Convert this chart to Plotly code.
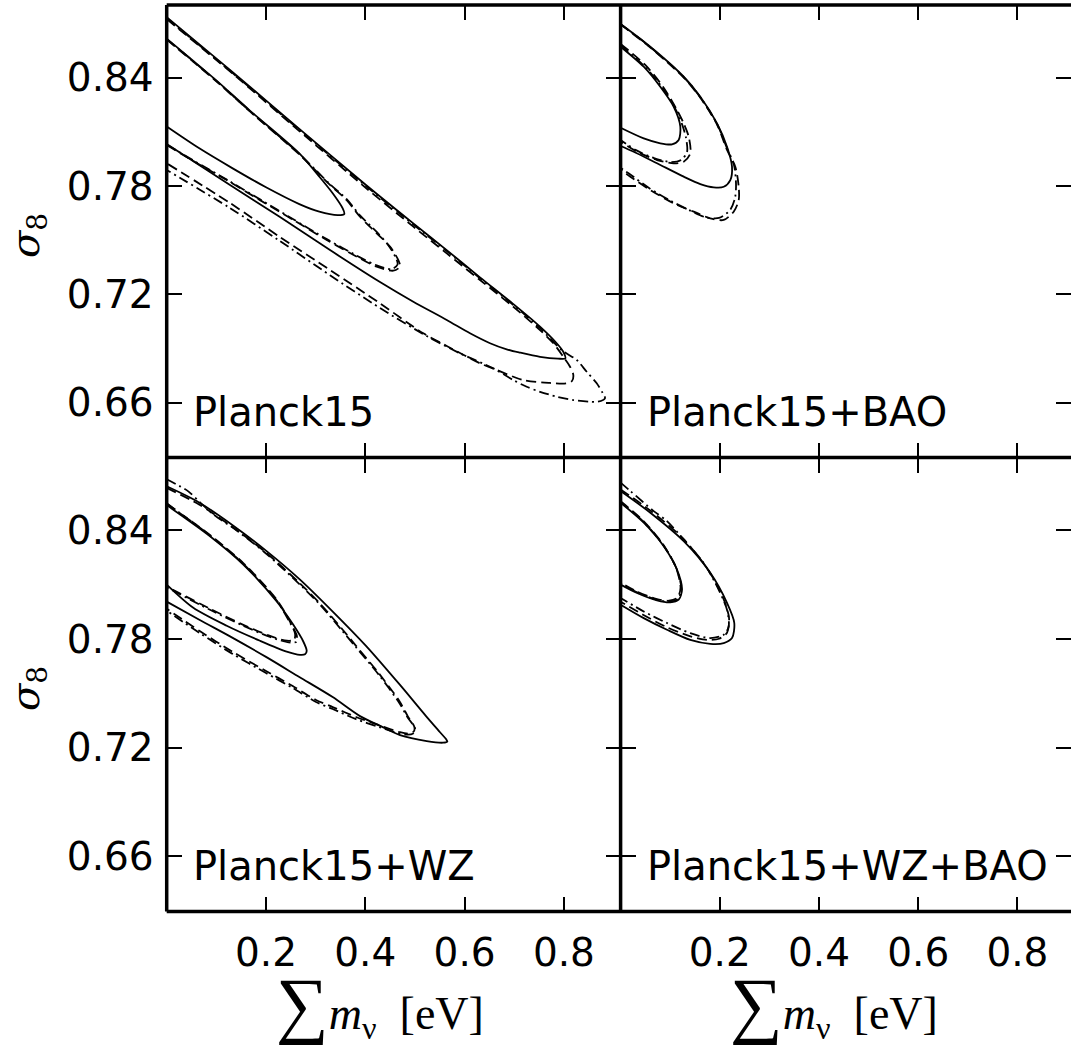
import plotly.graph_objects as go

# ---------------- data (sum m_nu [eV], sigma_8) ----------------
X_TICKS = [0.2, 0.4, 0.6, 0.8]
X_TICK_TEXT = ["0.2", "0.4", "0.6", "0.8"]
Y_TICKS = [0.66, 0.72, 0.78, 0.84]
Y_TICK_TEXT = ["0.66", "0.72", "0.78", "0.84"]
PANEL_NAMES = ["Planck15", "Planck15+BAO", "Planck15+WZ", "Planck15+WZ+BAO"]

# Panel 1: Planck15
P1_S68_X = [0, 0.0993, 0.1664, 0.2671, 0.3074, 0.3343, 0.3545, 0.3577, 0.3444, 0.3074, 0.2671, 0.2000, 0.1329, 0.0657, 0]
P1_S68_Y = [0.8617, 0.8387, 0.8221, 0.7981, 0.7852, 0.7760, 0.7676, 0.7645, 0.7639, 0.7658, 0.7700, 0.7793, 0.7898, 0.8009, 0.8130]
P1_S95_X = [0, 0.1335, 0.2671, 0.4014, 0.4967, 0.5640, 0.6310, 0.6981, 0.7519, 0.7855, 0.7988, 0.8028, 0.7881, 0.7519, 0.7116, 0.6848, 0.6512, 0.6109, 0.5640, 0.4967, 0.4296, 0.3289, 0.2282, 0.1275, 0]
P1_S95_Y = [0.8736, 0.8430, 0.8117, 0.7806, 0.7593, 0.7445, 0.7294, 0.7146, 0.7021, 0.6929, 0.6882, 0.6845, 0.6844, 0.6854, 0.6877, 0.6895, 0.6929, 0.6984, 0.7058, 0.7159, 0.7268, 0.7445, 0.7628, 0.7806, 0.8033]
P1_D68_X = [0, 0.0993, 0.1664, 0.2671, 0.3289, 0.3625, 0.3893, 0.4230, 0.4497, 0.4665, 0.4699, 0.4564, 0.4230, 0.3893, 0.3223, 0.2550, 0.1879, 0.1208, 0.0536, 0]
P1_D68_Y = [0.8611, 0.8382, 0.8216, 0.7975, 0.7806, 0.7722, 0.7630, 0.7538, 0.7464, 0.7390, 0.7353, 0.7331, 0.7353, 0.7399, 0.7501, 0.7612, 0.7722, 0.7833, 0.7939, 0.8027]
P1_DD68_X = [0, 0.0993, 0.1664, 0.2671, 0.3289, 0.3625, 0.3893, 0.4230, 0.4470, 0.4620, 0.4650, 0.4530, 0.4230, 0.3893, 0.3223, 0.2550, 0.1879, 0.1208, 0.0536, 0]
P1_DD68_Y = [0.8614, 0.8384, 0.8218, 0.7978, 0.7810, 0.7727, 0.7638, 0.7546, 0.7470, 0.7400, 0.7365, 0.7340, 0.7360, 0.7405, 0.7506, 0.7616, 0.7726, 0.7836, 0.7942, 0.8030]
P1_D95_X = [0, 0.1335, 0.2671, 0.4014, 0.4967, 0.5640, 0.6310, 0.6981, 0.7519, 0.7787, 0.7988, 0.8123, 0.8190, 0.8163, 0.8042, 0.7720, 0.7182, 0.6647, 0.6310, 0.5640, 0.5168, 0.4296, 0.3289, 0.2282, 0.1275, 0]
P1_D95_Y = [0.8725, 0.8421, 0.8105, 0.7789, 0.7575, 0.7427, 0.7279, 0.7131, 0.7002, 0.6929, 0.6854, 0.6799, 0.6753, 0.6720, 0.6707, 0.6709, 0.6725, 0.6781, 0.6818, 0.6914, 0.6984, 0.7150, 0.7335, 0.7517, 0.7706, 0.7926]
P1_DD95_X = [0, 0.1335, 0.2671, 0.4014, 0.4967, 0.5640, 0.6310, 0.6981, 0.7519, 0.7956, 0.8258, 0.8459, 0.8661, 0.8781, 0.8828, 0.8687, 0.8526, 0.8190, 0.7855, 0.7519, 0.7251, 0.6981, 0.6578, 0.5907, 0.5237, 0.4296, 0.3289, 0.2282, 0.1275, 0]
P1_DD95_Y = [0.8730, 0.8424, 0.8112, 0.7800, 0.7587, 0.7440, 0.7289, 0.7141, 0.7013, 0.6891, 0.6836, 0.6771, 0.6707, 0.6653, 0.6624, 0.6605, 0.6605, 0.6614, 0.6633, 0.6660, 0.6688, 0.6725, 0.6790, 0.6873, 0.6969, 0.7124, 0.7306, 0.7495, 0.7678, 0.7889]

# Panel 2: Planck15+BAO
P2_S68_X = [0, 0.0466, 0.0800, 0.1071, 0.1204, 0.1171, 0.1036, 0.0800, 0.0466, 0]
P2_S68_Y = [0.8572, 0.8461, 0.8350, 0.8239, 0.8129, 0.8055, 0.8031, 0.8037, 0.8064, 0.8123]
P2_S95_X = [0, 0.0599, 0.1272, 0.1607, 0.1944, 0.2145, 0.2246, 0.2212, 0.2079, 0.1877, 0.1607, 0.1272, 0.0734, 0.0264, 0]
P2_S95_Y = [0.8698, 0.8572, 0.8406, 0.8295, 0.8147, 0.8018, 0.7907, 0.7833, 0.7796, 0.7793, 0.7811, 0.7852, 0.7926, 0.7990, 0.8022]
P2_D68_X = [0, 0.0492, 0.0855, 0.1137, 0.1272, 0.1373, 0.1405, 0.1272, 0.1071, 0.0734, 0.0331, 0]
P2_D68_Y = [0.8587, 0.8472, 0.8350, 0.8221, 0.8147, 0.8073, 0.7981, 0.7935, 0.7926, 0.7944, 0.7990, 0.8045]
P2_DD68_X = [0, 0.0472, 0.0835, 0.1097, 0.1238, 0.1319, 0.1339, 0.1218, 0.1016, 0.0673, 0.0310, 0]
P2_DD68_Y = [0.8581, 0.8466, 0.8348, 0.8232, 0.8143, 0.8066, 0.7988, 0.7944, 0.7933, 0.7955, 0.7999, 0.8055]
P2_D95_X = [0, 0.0599, 0.1272, 0.1607, 0.1944, 0.2145, 0.2312, 0.2381, 0.2381, 0.2280, 0.2079, 0.1808, 0.1474, 0.1071, 0.0599, 0.0196, 0]
P2_D95_Y = [0.8695, 0.8567, 0.8401, 0.8289, 0.8141, 0.8000, 0.7907, 0.7796, 0.7722, 0.7658, 0.7612, 0.7621, 0.7658, 0.7704, 0.7778, 0.7852, 0.7889]
P2_DD95_X = [0, 0.0599, 0.1272, 0.1607, 0.1944, 0.2145, 0.2286, 0.2327, 0.2306, 0.2206, 0.1984, 0.1702, 0.1379, 0.1016, 0.0573, 0.0210, 0]
P2_DD95_Y = [0.8697, 0.8570, 0.8404, 0.8292, 0.8144, 0.8010, 0.7916, 0.7807, 0.7734, 0.7667, 0.7623, 0.7628, 0.7667, 0.7717, 0.7789, 0.7861, 0.7900]

# Panel 3: Planck15+WZ
P3_S68_X = [0, 0.0872, 0.1543, 0.2216, 0.2550, 0.2751, 0.2820, 0.2786, 0.2685, 0.2417, 0.1879, 0.1208, 0.0536, 0]
P3_S68_Y = [0.8540, 0.8368, 0.8212, 0.8008, 0.7879, 0.7787, 0.7735, 0.7716, 0.7713, 0.7731, 0.7791, 0.7874, 0.7973, 0.8101]
P3_S95_X = [0, 0.0651, 0.1335, 0.2000, 0.2685, 0.3349, 0.4014, 0.4699, 0.5223, 0.5505, 0.5626, 0.5652, 0.5565, 0.5237, 0.4699, 0.4350, 0.3893, 0.3343, 0.2671, 0.2000, 0.1329, 0.0657, 0]
P3_S95_Y = [0.8644, 0.8555, 0.8428, 0.8289, 0.8129, 0.7951, 0.7763, 0.7547, 0.7375, 0.7286, 0.7248, 0.7234, 0.7228, 0.7237, 0.7270, 0.7314, 0.7375, 0.7480, 0.7591, 0.7702, 0.7807, 0.7907, 0.8007]
P3_D68_X = [0, 0.0872, 0.1543, 0.2216, 0.2485, 0.2586, 0.2566, 0.2423, 0.2081, 0.1543, 0.0872, 0]
P3_D68_Y = [0.8547, 0.8375, 0.8220, 0.8018, 0.7896, 0.7829, 0.7796, 0.7791, 0.7818, 0.7879, 0.7968, 0.8090]
P3_DD68_X = [0, 0.0872, 0.1543, 0.2216, 0.2485, 0.2620, 0.2610, 0.2460, 0.2081, 0.1543, 0.0872, 0]
P3_DD68_Y = [0.8550, 0.8372, 0.8216, 0.8013, 0.7890, 0.7820, 0.7785, 0.7782, 0.7812, 0.7874, 0.7962, 0.8086]
P3_D95_X = [0, 0.0651, 0.1335, 0.2000, 0.2685, 0.3089, 0.3545, 0.3813, 0.4282, 0.4685, 0.4854, 0.4987, 0.4981, 0.4900, 0.4699, 0.4282, 0.3813, 0.3343, 0.3007, 0.2538, 0.2000, 0.1329, 0.0657, 0]
P3_D95_Y = [0.8635, 0.8544, 0.8417, 0.8278, 0.8107, 0.7996, 0.7852, 0.7763, 0.7608, 0.7458, 0.7375, 0.7316, 0.7292, 0.7279, 0.7286, 0.7325, 0.7370, 0.7425, 0.7464, 0.7541, 0.7624, 0.7730, 0.7846, 0.7968]
P3_DD95_X = [0, 0.0435, 0.0671, 0.0939, 0.1410, 0.2000, 0.2685, 0.3089, 0.3545, 0.3813, 0.4282, 0.4685, 0.4860, 0.5001, 0.4961, 0.4800, 0.4564, 0.4282, 0.3813, 0.3343, 0.3007, 0.2538, 0.2000, 0.1329, 0.0657, 0]
P3_DD95_Y = [0.8683, 0.8616, 0.8555, 0.8489, 0.8400, 0.8273, 0.8101, 0.7990, 0.7843, 0.7755, 0.7600, 0.7447, 0.7364, 0.7309, 0.7278, 0.7273, 0.7289, 0.7314, 0.7358, 0.7414, 0.7453, 0.7530, 0.7613, 0.7718, 0.7835, 0.7957]

# Panel 4: Planck15+WZ+BAO
P4_S68_X = [0, 0.0466, 0.0869, 0.1137, 0.1238, 0.1171, 0.1002, 0.0734, 0.0331, 0]
P4_S68_Y = [0.8553, 0.8443, 0.8313, 0.8184, 0.8073, 0.8018, 0.8003, 0.8014, 0.8055, 0.8101]
P4_S95_X = [0, 0.0599, 0.1272, 0.1808, 0.2145, 0.2292, 0.2246, 0.2079, 0.1808, 0.1405, 0.0935, 0.0466, 0]
P4_S95_Y = [0.8618, 0.8498, 0.8341, 0.8166, 0.8000, 0.7889, 0.7806, 0.7778, 0.7774, 0.7796, 0.7852, 0.7916, 0.7990]
P4_D68_X = [0, 0.0452, 0.0855, 0.1117, 0.1208, 0.1147, 0.0976, 0.0714, 0.0310, 0]
P4_D68_Y = [0.8561, 0.8455, 0.8324, 0.8195, 0.8084, 0.8029, 0.8012, 0.8023, 0.8065, 0.8112]
P4_DD68_X = [0, 0.0460, 0.0862, 0.1127, 0.1223, 0.1160, 0.0990, 0.0724, 0.0320, 0]
P4_DD68_Y = [0.8557, 0.8449, 0.8318, 0.8190, 0.8078, 0.8022, 0.8006, 0.8018, 0.8060, 0.8107]
P4_D95_X = [0, 0.0593, 0.1258, 0.1762, 0.2065, 0.2186, 0.2145, 0.1984, 0.1742, 0.1379, 0.0915, 0.0452, 0]
P4_D95_Y = [0.8627, 0.8511, 0.8356, 0.8184, 0.8029, 0.7918, 0.7835, 0.7802, 0.7796, 0.7818, 0.7868, 0.7935, 0.8007]
P4_DD95_X = [0, 0.0196, 0.0667, 0.0935, 0.1272, 0.1675, 0.1944, 0.2145, 0.2179, 0.2079, 0.1808, 0.1405, 0.0935, 0.0466, 0]
P4_DD95_Y = [0.8664, 0.8618, 0.8507, 0.8452, 0.8350, 0.8221, 0.8091, 0.7962, 0.7870, 0.7824, 0.7806, 0.7833, 0.7889, 0.7953, 0.8027]

# ---------------- layout geometry ----------------
W, H = 1071, 1047
X_LEFT = [166.7 / W, 620.6 / W]
X_RIGHT = [620.6 / W, 1.0]
Y_TOP = [1 - 457.5 / H, 1 - 5 / H]
Y_BOT = [1 - 911.5 / H, 1 - 457.5 / H]
XR_LEFT = [0, 0.9142]
XR_RIGHT = [0, 0.9080]
YR = [0.6296, 0.8803]

STYLE = {
    "S": dict(color="black", width=1.8, dash="solid"),
    "D": dict(color="black", width=1.8, dash="10px,5px"),
    "DD": dict(color="black", width=1.8, dash="10px,4px,2px,4px"),
}

panels = [
    (1, [("S", P1_S68_X, P1_S68_Y), ("S", P1_S95_X, P1_S95_Y), ("D", P1_D68_X, P1_D68_Y),
         ("D", P1_D95_X, P1_D95_Y), ("DD", P1_DD68_X, P1_DD68_Y), ("DD", P1_DD95_X, P1_DD95_Y)]),
    (2, [("S", P2_S68_X, P2_S68_Y), ("S", P2_S95_X, P2_S95_Y), ("D", P2_D68_X, P2_D68_Y),
         ("D", P2_D95_X, P2_D95_Y), ("DD", P2_DD68_X, P2_DD68_Y), ("DD", P2_DD95_X, P2_DD95_Y)]),
    (3, [("S", P3_S68_X, P3_S68_Y), ("S", P3_S95_X, P3_S95_Y), ("D", P3_D68_X, P3_D68_Y),
         ("D", P3_D95_X, P3_D95_Y), ("DD", P3_DD68_X, P3_DD68_Y), ("DD", P3_DD95_X, P3_DD95_Y)]),
    (4, [("S", P4_S68_X, P4_S68_Y), ("S", P4_S95_X, P4_S95_Y), ("D", P4_D68_X, P4_D68_Y),
         ("D", P4_D95_X, P4_D95_Y), ("DD", P4_DD68_X, P4_DD68_Y), ("DD", P4_DD95_X, P4_DD95_Y)]),
]

fig = go.Figure()
for idx, curves in panels:
    xa = "x" if idx == 1 else f"x{idx}"
    ya = "y" if idx == 1 else f"y{idx}"
    for st, xs, ys in curves:
        fig.add_trace(go.Scatter(x=xs, y=ys, mode="lines", xaxis=xa, yaxis=ya,
                                 line=dict(shape="spline", smoothing=0.8, **STYLE[st]),
                                 showlegend=False, hoverinfo="skip"))

tickfont = dict(family="DejaVu Sans", size=39, color="black")
common = dict(ticks="inside", ticklen=15, tickwidth=1.5, tickcolor="black", mirror="ticks",
              showline=False, showgrid=False, zeroline=False, tickfont=tickfont)

def xax(domain, rng, anchor, labels):
    return dict(domain=domain, range=rng, anchor=anchor, tickvals=X_TICKS, ticktext=X_TICK_TEXT,
                showticklabels=labels, ticklabelstandoff=14, **common)

def yax(domain, anchor, labels):
    return dict(domain=domain, range=YR, anchor=anchor, tickvals=Y_TICKS, ticktext=Y_TICK_TEXT,
                showticklabels=labels, ticklabelstandoff=12, **common)

fig.update_layout(
    width=W, height=H, margin=dict(l=0, r=0, t=0, b=0),
    paper_bgcolor="white", plot_bgcolor="white",
    xaxis=xax(X_LEFT, XR_LEFT, "y", False), yaxis=yax(Y_TOP, "x", True),
    xaxis2=xax(X_RIGHT, XR_RIGHT, "y2", False), yaxis2=yax(Y_TOP, "x2", False),
    xaxis3=xax(X_LEFT, XR_LEFT, "y3", True), yaxis3=yax(Y_BOT, "x3", True),
    xaxis4=xax(X_RIGHT, XR_RIGHT, "y4", True), yaxis4=yax(Y_BOT, "x4", False),
)

# spines
LW = 3.5
shapes = [
    dict(type="line", xref="paper", yref="paper", x0=X_LEFT[0], x1=X_LEFT[0], y0=Y_BOT[0], y1=Y_TOP[1]),
    dict(type="line", xref="paper", yref="paper", x0=X_LEFT[1], x1=X_LEFT[1], y0=Y_BOT[0], y1=Y_TOP[1]),
    dict(type="line", xref="paper", yref="paper", x0=X_LEFT[0], x1=1.01, y0=Y_TOP[1], y1=Y_TOP[1]),
    dict(type="line", xref="paper", yref="paper", x0=X_LEFT[0], x1=1.01, y0=Y_TOP[0], y1=Y_TOP[0]),
    dict(type="line", xref="paper", yref="paper", x0=X_LEFT[0], x1=1.01, y0=Y_BOT[0], y1=Y_BOT[0]),
]
for s in shapes:
    s["line"] = dict(color="black", width=LW)
fig.update_layout(shapes=shapes)

labfont = dict(family="DejaVu Sans", size=40, color="black")
label_pos = [(191 / W, 1 - 412 / H), (645 / W, 1 - 412 / H), (191 / W, 1 - 866 / H), (645 / W, 1 - 866 / H)]
for name, (lx, ly) in zip(PANEL_NAMES, label_pos):
    fig.add_annotation(text=name, x=lx, y=ly, xref="paper", yref="paper", xanchor="left",
                       yanchor="middle", showarrow=False, font=labfont)

mathfont = dict(family="Liberation Serif", size=46, color="black")
xtitle = "<span style='font-size:74px'>∑</span><i>m</i><sub>ν</sub>  [eV]"
for cx in (380 / W, 834 / W):
    fig.add_annotation(text=xtitle, x=cx, y=1 - 1004 / H, xref="paper", yref="paper",
                       xanchor="center", yanchor="middle", showarrow=False, font=mathfont)
ytitle = "<i>σ</i><sub>8</sub>"
for cy in (1 - 236 / H, 1 - 689 / H):
    fig.add_annotation(text=ytitle, x=28 / W, y=cy, xref="paper", yref="paper", textangle=-90,
                       xanchor="center", yanchor="middle", showarrow=False,
                       font=dict(family="DejaVu Serif", size=40, color="black"))

fig.write_html("out.html")
